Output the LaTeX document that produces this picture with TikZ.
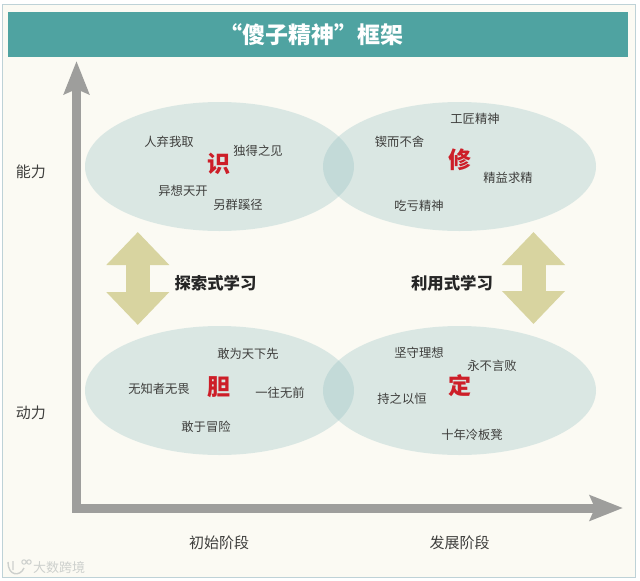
\documentclass[tikz,border=0pt]{standalone}
\usepackage{fontspec}
\setmainfont{Noto Sans CJK SC}
\usetikzlibrary{arrows.meta,shapes.geometric}
\definecolor{bgcream}{RGB}{251,250,243}
\definecolor{framec}{RGB}{190,210,215}
\definecolor{titlebar}{RGB}{79,163,161}
\definecolor{axisgray}{RGB}{158,158,156}
\definecolor{khaki}{RGB}{216,212,160}
\definecolor{ovalc}{RGB}{144,190,193}
\definecolor{wordc}{RGB}{62,62,60}
\definecolor{redc}{RGB}{205,30,40}
\definecolor{markc}{RGB}{205,208,205}
\tikzset{
  x=1pt,y=-1pt,
  oval/.style={ellipse,minimum height=129pt,inner sep=0pt,fill=ovalc,fill opacity=.3,text opacity=1},
  ovalleft/.style={oval,minimum width=269pt},
  ovalright/.style={oval,minimum width=273pt},
  word/.style={font=\fontsize{12.3}{14}\selectfont,text=wordc,inner sep=0pt},
  core/.style={font=\fontsize{23}{25}\selectfont\bfseries,text=redc,inner sep=0pt},
  axislabel/.style={font=\fontsize{15}{17}\selectfont,text=wordc,inner sep=0pt},
  learn/.style={font=\fontsize{16.4}{18}\selectfont\bfseries,text=black!85,inner sep=0pt},
  axisline/.style={draw=axisgray,line width=9pt,miter limit=10,
    {Stealth[length=33pt,width=25pt,inset=5pt]}-{Stealth[length=33pt,width=25pt,inset=5pt]}},
  swing/.style={draw=khaki,line width=24pt,
    {Triangle[length=33pt,width=61pt]}-{Triangle[length=33pt,width=61pt]}},
}
\begin{document}
\begin{tikzpicture}
\useasboundingbox (0,0) rectangle (640,581);
\fill[white] (0,0) rectangle (640,581);
\path[fill=bgcream,draw=framec,line width=1pt] (2,4) rectangle (635.5,577);
\node[fill=titlebar,minimum width=620pt,minimum height=45pt,inner sep=0pt,text=white,font=\fontsize{23}{26}\selectfont\bfseries] (title) at (318,34.5) {“傻子精神”框架\hspace*{14pt}};

\coordinate (ytip) at (76.5,61);
\coordinate (origin) at (76.5,508);
\coordinate (xtip) at (623,508);
\path[axisline] (ytip) -- (origin) -- (xtip);

\node[ovalleft] (shi) at (219.5,166.5) {};
\node[ovalright] (xiu) at (459.5,166.5) {};
\node[ovalleft] (dan) at (219.5,390.5) {};
\node[ovalright] (ding) at (459.5,390.5) {};

\coordinate (la) at (137.8,232);
\coordinate (lb) at (137.8,325);
\coordinate (ra) at (533.5,232);
\coordinate (rb) at (533.5,324);
\path[swing] (la) -- (lb);
\path[swing] (ra) -- (rb);

\node[core] (c1) at (219,164) {识};
\node[core] (c2) at (459.5,160) {修};
\node[core] (c3) at (219,387) {胆};
\node[core] (c4) at (459.5,386) {定};

\node[word] (w1) at (169,142) {人弃我取};
\node[word] (w2) at (258,151) {独得之见};
\node[word] (w3) at (183,191) {异想天开};
\node[word] (w4) at (238,205) {另群蹊径};
\node[word] (w5) at (475,118.5) {工匠精神};
\node[word] (w6) at (399.5,142) {锲而不舍};
\node[word] (w7) at (508,178) {精益求精};
\node[word] (w8) at (419,205.5) {吃亏精神};
\node[word] (w9) at (248,354) {敢为天下先};
\node[word] (w10) at (159,389) {无知者无畏};
\node[word] (w11) at (280,393) {一往无前};
\node[word] (w12) at (206,427) {敢于冒险};
\node[word] (w13) at (419,353) {坚守理想};
\node[word] (w14) at (492,366) {永不言败};
\node[word] (w15) at (402,399) {持之以恒};
\node[word] (w16) at (472,435) {十年冷板凳};

\node[axislabel] (n1) at (31,172) {能力};
\node[axislabel] (n2) at (31,413) {动力};
\node[axislabel] (n3) at (219,543) {初始阶段};
\node[axislabel] (n4) at (459.5,543) {发展阶段};
\node[learn] (l1) at (215.5,283.5) {探索式学习};
\node[learn] (l2) at (452,283.5) {利用式学习};
\node[font=\fontsize{13}{15}\selectfont,text=markc,inner sep=0pt] (mark) at (59,568) {大数跨境};
\draw[markc,line width=1.4pt] (8,562) .. controls (8,576) and (20,577) .. (24,568) (13,561) -- (13,570);
\draw[markc,line width=1pt] (24,562) circle (2.2) (29,562) circle (2.2);
\end{tikzpicture}
\end{document}
